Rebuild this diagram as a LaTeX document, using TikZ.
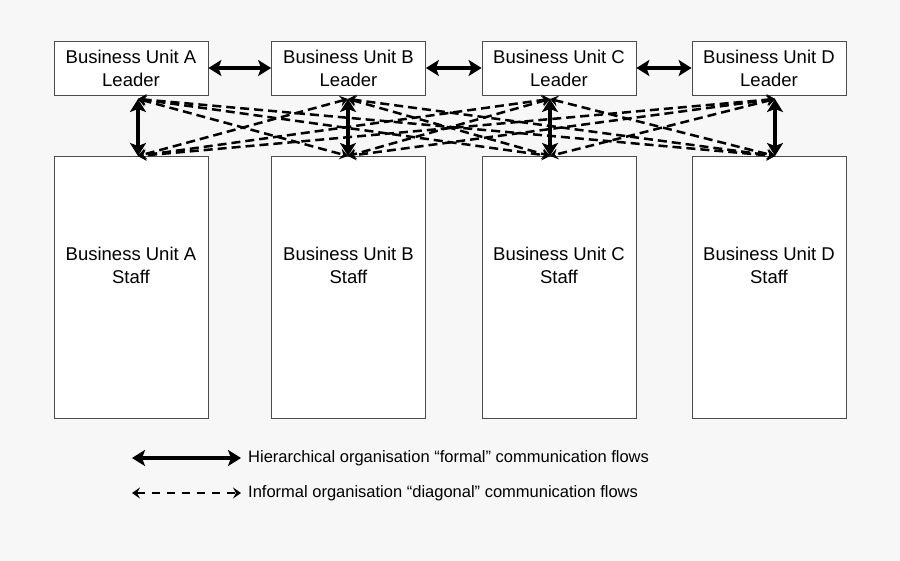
\documentclass[tikz,border=0pt]{standalone}
\usepackage{fontspec}
\setmainfont{Liberation Sans}
\usetikzlibrary{arrows.meta}
\begin{document}
\begin{tikzpicture}[x=1pt,y=-1pt,
  box/.style={draw=black!70,line width=0.8pt,fill=white,minimum width=154pt,align=center,inner sep=0pt,font=\fontsize{18.5}{23}\selectfont},
  formal/.style={line width=4.4pt,{Stealth[length=13pt,width=16pt,inset=3pt]}-{Stealth[length=13pt,width=16pt,inset=3pt]}},
  informal/.style={line width=2.5pt,dash pattern=on 9pt off 5pt,{Stealth[length=8pt,width=11pt,inset=3pt]}-{Stealth[length=8pt,width=11pt,inset=3pt]}},
  legtext/.style={anchor=west,font=\fontsize{16.5}{19}\selectfont,inner sep=0pt}]
\fill[black!3] (0,0) rectangle (900,561);
\useasboundingbox (0,0) rectangle (900,561);
% leaders
\node[box,minimum height=54pt] (lA) at (131,68) {Business Unit A\\Leader};
\node[box,minimum height=54pt] (lB) at (348.5,68) {Business Unit B\\Leader};
\node[box,minimum height=54pt] (lC) at (559,68) {Business Unit C\\Leader};
\node[box,minimum height=54pt] (lD) at (769,68) {Business Unit D\\Leader};
% staff
\node[box,minimum height=262pt,text depth=44pt] (sA) at (131,287) {Business Unit A\\Staff};
\node[box,minimum height=262pt,text depth=44pt] (sB) at (348.5,287) {Business Unit B\\Staff};
\node[box,minimum height=262pt,text depth=44pt] (sC) at (559,287) {Business Unit C\\Staff};
\node[box,minimum height=262pt,text depth=44pt] (sD) at (769,287) {Business Unit D\\Staff};
% anchor points
\coordinate (pA) at (138,99);  \coordinate (qA) at (138,156);
\coordinate (pB) at (348,99);  \coordinate (qB) at (348,156);
\coordinate (pC) at (550,99);  \coordinate (qC) at (550,156);
\coordinate (pD) at (775,99);  \coordinate (qD) at (775,156);
% formal horizontal
\draw[formal] (lA.east) -- (lB.west);
\draw[formal] (lB.east) -- (lC.west);
\draw[formal] (lC.east) -- (lD.west);
% formal vertical
\draw[formal] (pA) -- (qA);
\draw[formal] (pB) -- (qB);
\draw[formal] (pC) -- (qC);
\draw[formal] (pD) -- (qD);
% informal
\foreach \a/\b in {A/B,A/C,A/D,B/A,B/C,B/D,C/A,C/B,C/D,D/A,D/B,D/C}{
  \draw[informal] (p\a) -- (q\b);
}
% legend
\coordinate (f1) at (132,458); \coordinate (f2) at (241,458);
\coordinate (g1) at (132,493); \coordinate (g2) at (241,493);
\draw[formal] (f1) -- (f2);
\draw[informal,dash pattern=on 8pt off 7pt] (g1) -- (g2);
\node[legtext] (t1) at (248,458) {Hierarchical organisation “formal” communication flows};
\node[legtext] (t2) at (248,493) {Informal organisation “diagonal” communication flows};
\end{tikzpicture}
\end{document}
